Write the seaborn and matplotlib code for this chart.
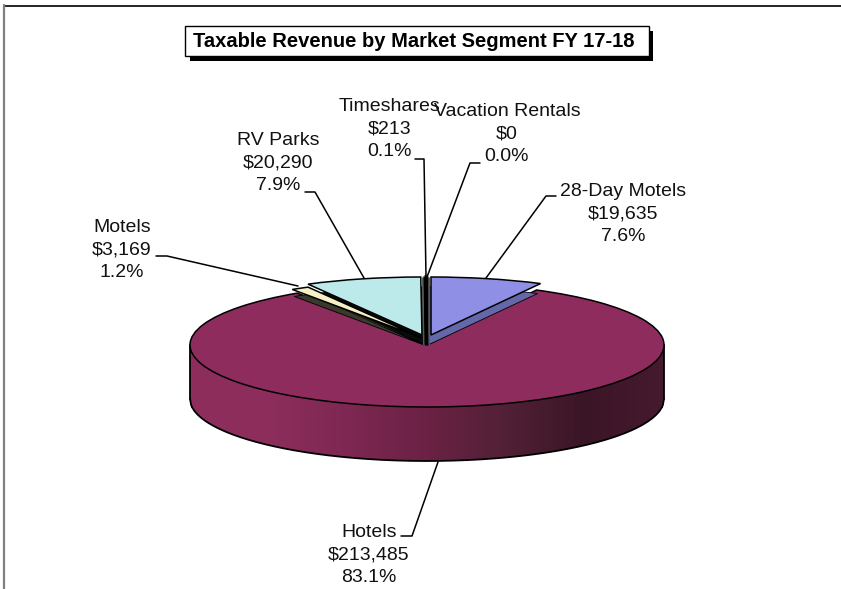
import numpy as np
import matplotlib
matplotlib.use('Agg')
import matplotlib.pyplot as plt
from matplotlib.patches import Rectangle
from matplotlib.transforms import Affine2D
import seaborn as sns

# data, clockwise from 12 o'clock
segments = ['Vacation Rentals', '28-Day Motels', 'Hotels', 'Motels', 'RV Parks', 'Timeshares']
revenue = [0, 19635, 213485, 3169, 20290, 213]
percent = [0.0, 7.6, 83.1, 1.2, 7.9, 0.1]
chart_title = 'Taxable Revenue by Market Segment FY 17-18'

sns.set_theme(style='white')
plt.rcParams['font.family'] = ['Liberation Sans', 'DejaVu Sans']

top_colors = sns.color_palette(['#8f8fe6', '#8f8fe6', '#8e2c5e', '#f6f0c4', '#bce9e9', '#555555'])
side_colors = sns.color_palette(['#555555', '#6468a8', '#8e2c5e', '#3a3a2c', '#0a0a0a', '#111111'])
wall_cmap = sns.blend_palette(['#8c2d5c', '#8c2d5c', '#7d2752', '#6a2143', '#512036', '#3a1526', '#46192e'],
                              as_cmap=True)

W, H = 841, 589
fig = plt.figure(figsize=(W / 100, H / 100), dpi=100, facecolor='white')

# pie axes: one unit = the hotel slice radius on screen
cx, cy, rx, ry = 427, 345, 237, 62
depth = 54
ax = fig.add_axes([(cx - rx) / W, 1 - (cy + ry) / H, 2 * rx / W, 2 * ry / H])

# rim of the big slice
x = np.linspace(-1, 1, 400)
front = -np.sqrt(1 - x ** 2)
d = depth / ry
ax.pcolormesh(np.vstack([x, x]), np.vstack([front, front - d]),
              ((x[:-1] + x[1:]) / 2)[None, :], cmap=wall_cmap, shading='flat', zorder=1, clip_on=False)
ax.plot(x, front - d, color='black', lw=1.3, zorder=2, clip_on=False)
ax.plot([-1, -1], [0, -d], color='black', lw=1.3, zorder=2, clip_on=False)
ax.plot([1, 1], [0, -d], color='black', lw=1.3, zorder=2, clip_on=False)

sides, _ = ax.pie(revenue, startangle=90, counterclock=False, colors=side_colors,
                  wedgeprops={'edgecolor': 'black', 'linewidth': 0.6})
tops, _ = ax.pie(revenue, startangle=90, counterclock=False, colors=top_colors,
                 wedgeprops={'edgecolor': 'black', 'linewidth': 1.1})
ax.set_aspect('auto')
ax.set_xlim(-1, 1)
ax.set_ylim(-1, 1)
ax.axis('off')


def place(wedge, dx, dy, scale, z):
    # dx, dy in screen pixels from the pie centre (dy down)
    tr = Affine2D().scale(1, scale).translate(dx / rx, -dy / ry)
    wedge.set_transform(tr + ax.transData)
    wedge.set_zorder(z)
    wedge.set_clip_on(False)


# the small slices sit a little behind the big one, each shows its cut face
back = 58 / 62
place(tops[2], 0, 0, 1, 3)
sides[2].set_visible(False)
place(sides[4], -1, 0, back, 4)
place(sides[3], -3, 0, back, 5)
place(tops[3], -5, -7, back, 6)
place(tops[4], -5, -10, back, 7)
place(sides[1], 1, 0, back, 8)
place(tops[1], 4, -10, back, 9)
# the hairline timeshare slice reads as a dark bar between the two neighbours
place(sides[5], -0.5, 0, 67 / 62, 10)
sides[5].set_edgecolor('#5a5a5a')
sides[5].set_linewidth(5)
sides[5].set_joinstyle('bevel')
place(tops[5], -0.5, 0, 67 / 62, 11)
tops[5].set_edgecolor('black')
tops[5].set_linewidth(2.5)
tops[5].set_joinstyle('bevel')
sides[0].set_visible(False)
tops[0].set_visible(False)

# overlay in screen pixels for frame, title, labels
ov = fig.add_axes([0, 0, 1, 1], zorder=5)
ov.set_xlim(0, W)
ov.set_ylim(H, 0)
ov.axis('off')
ov.patch.set_alpha(0)

ov.plot([4, W], [6, 6], color='black', lw=1.2)
ov.plot([4, 4], [5, H], color='#808080', lw=1.6)

ov.add_patch(Rectangle((190, 31), 463, 30, fc='black', ec='black', lw=0))
ov.add_patch(Rectangle((185, 26), 464, 30, fc='white', ec='black', lw=1))
ov.text(414, 41.5, chart_title, fontsize=14.5, fontweight='bold', ha='center', va='center', color='black')

label_pos = {'Vacation Rentals': (507, 134), '28-Day Motels': (623, 214), 'Hotels': (369, 555),
             'Motels': (122, 250), 'RV Parks': (278, 163), 'Timeshares': (390, 129)}
leaders = {'Vacation Rentals': [(480, 163), (470, 163), (427, 277)],
           '28-Day Motels': [(556, 196), (546, 196), (486, 278)],
           'Hotels': [(401, 536), (412, 536), (438, 462)],
           'Motels': [(156, 256), (167, 256), (298, 286)],
           'RV Parks': [(305, 192), (315, 192), (364, 278)],
           'Timeshares': [(415, 159), (424, 159), (426, 277)]}

for name, val, pct in zip(segments, revenue, percent):
    lx, ly = label_pos[name]
    ov.text(lx, ly, f'{name}\n${val:,}\n{pct:.1f}%', fontsize=14, ha='center', va='center',
            linespacing=1.45, color='#111111')
    pts = np.array(leaders[name])
    ov.plot(pts[:, 0], pts[:, 1], color='black', lw=1.1)

fig.savefig('out.png', dpi=100)
